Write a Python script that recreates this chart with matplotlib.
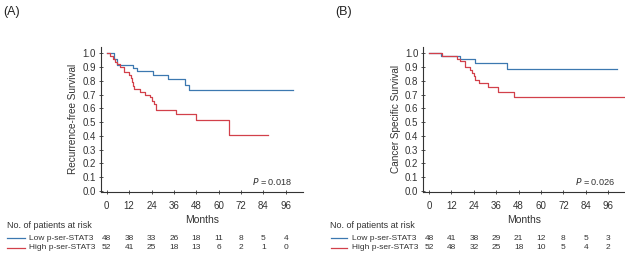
import matplotlib
matplotlib.use("Agg")
import matplotlib.pyplot as plt
import matplotlib.transforms as mtransforms

plt.rcParams['font.family'] = ['Liberation Sans', 'DejaVu Sans']

# ---------------- data ----------------
# Panel A: recurrence-free survival (step times in months, survival after step)
a_low_t = [0, 4, 5.5, 14.3, 16.4, 25, 33, 42, 44.3, 100]
a_low_s = [1.0, 0.958, 0.917, 0.895, 0.871, 0.842, 0.811, 0.77, 0.733, 0.733]
a_high_t = [0, 2, 3.2, 4.5, 5.7, 7.1, 9, 12, 12.8, 13.4, 13.9, 14.8, 17.8, 20.5,
            23.2, 24, 25.3, 26.4, 37.1, 47.8, 65.6, 86.5]
a_high_s = [1.0, 0.98, 0.96, 0.94, 0.92, 0.90, 0.865, 0.845, 0.82, 0.79, 0.76, 0.74,
            0.72, 0.70, 0.68, 0.655, 0.63, 0.59, 0.56, 0.515, 0.41, 0.41]

# Panel B: cancer specific survival
b_low_t = [0, 6.6, 16.5, 24.8, 41.6, 100.5]
b_low_s = [1.0, 0.979, 0.957, 0.932, 0.889, 0.889]
b_high_t = [0, 6.8, 14.8, 16.6, 19.3, 22, 23.2, 23.9, 24.6, 26.8, 31.4, 37.1, 45.7, 105]
b_high_s = [1.0, 0.979, 0.961, 0.942, 0.898, 0.879, 0.86, 0.838, 0.806, 0.782,
            0.753, 0.722, 0.680, 0.680]

months_ticks = [0, 12, 24, 36, 48, 60, 72, 84, 96]
y_ticks = [0.0, 0.1, 0.2, 0.3, 0.4, 0.5, 0.6, 0.7, 0.8, 0.9, 1.0]

a_risk_low = [48, 38, 33, 26, 18, 11, 8, 5, 4]
a_risk_high = [52, 41, 25, 18, 13, 6, 2, 1, 0]
b_risk_low = [48, 41, 38, 29, 21, 12, 8, 5, 3]
b_risk_high = [52, 48, 32, 25, 18, 10, 5, 4, 2]

group_labels = ["Low p-ser-STAT3", "High p-ser-STAT3"]
panel_labels = ["(A)", "(B)"]
y_labels = ["Recurrence-free Survival", "Cancer Specific Survival"]
p_texts = ["0.018", "0.026"]

BLUE = "#3c78b0"
RED = "#d2404a"
TXT = "#333333"

W, H = 625, 254
fig = plt.figure(figsize=(W / 100, H / 100), dpi=100)
fig.patch.set_facecolor("white")

def fx(px):
    return px / W

def fy(py):
    return 1 - py / H

panels = [
    dict(left=101, right=302.5, x0=106.7, t=(a_low_t, a_low_s, a_high_t, a_high_s),
         risk=(a_risk_low, a_risk_high), lab_x=3, risk_title_x=7, line_x=(7, 25), name_x=29),
    dict(left=423.3, right=625, x0=429, t=(b_low_t, b_low_s, b_high_t, b_high_s),
         risk=(b_risk_low, b_risk_high), lab_x=335, risk_title_x=330, line_x=(330.5, 347), name_x=352),
]

px_per_month = 22.4 / 12
top_px, bot_px = 46.7, 191.5
y1_px, y0_px = 53.3, 191.0
px_per_unit = (y0_px - y1_px)

for i, p in enumerate(panels):
    ax = fig.add_axes([fx(p['left']), fy(bot_px), fx(p['right'] - p['left']), (bot_px - top_px) / H])
    xmin = -(p['x0'] - p['left']) / px_per_month
    xmax = (p['right'] - p['x0']) / px_per_month
    ymin = -(bot_px - y0_px) / px_per_unit
    ymax = 1.0 + (y1_px - top_px) / px_per_unit
    ax.set_xlim(xmin, xmax)
    ax.set_ylim(ymin, ymax)
    lt, ls, ht, hs = p['t']
    ax.step(lt, ls, where='post', color=BLUE, lw=0.9)
    ax.step(ht, hs, where='post', color=RED, lw=0.9)
    for s in ['top', 'right']:
        ax.spines[s].set_visible(False)
    for s in ['left', 'bottom']:
        ax.spines[s].set_linewidth(0.8)
        ax.spines[s].set_color(TXT)
    ax.set_xticks(months_ticks)
    ax.set_yticks(y_ticks)
    ax.set_yticklabels([f"{v:.1f}" for v in y_ticks])
    ax.tick_params(direction='inout', length=3, width=0.6, labelsize=7, pad=2, colors=TXT)
    ax.tick_params(axis='x', pad=5.5)
    ax.set_xlabel("Months", fontsize=7.5, labelpad=3, color=TXT)
    ax.set_ylabel(y_labels[i], fontsize=7.2, labelpad=3, color=TXT)
    ax.text(99.6, 0.068, r"$\it{P}$" + " = " + p_texts[i], ha='right', va='center',
            fontsize=6.6, color=TXT)

    # panel label
    fig.text(fx(p['lab_x']), fy(12), panel_labels[i], fontsize=9, ha='left', va='center', color='#222222')

    # risk table
    fig.text(fx(p['risk_title_x']), fy(225), "No. of patients at risk", fontsize=6.5,
             ha='left', va='center', color=TXT)
    trans = mtransforms.blended_transform_factory(ax.transData, fig.transFigure)
    rows_y = [238, 247.5]
    colors = [BLUE, RED]
    for r in range(2):
        fig.add_artist(plt.Line2D([fx(p['line_x'][0]), fx(p['line_x'][1])], [fy(rows_y[r])] * 2,
                                  color=colors[r], lw=0.9, transform=fig.transFigure))
        fig.text(fx(p['name_x']), fy(rows_y[r]), group_labels[r], fontsize=6,
                 ha='left', va='center', color=TXT)
        for m, n in zip(months_ticks, p['risk'][r]):
            fig.text(m, fy(rows_y[r]), str(n), fontsize=6, ha='center', va='center',
                     transform=trans, color=TXT)

fig.savefig("out.png", dpi=100, facecolor="white")
